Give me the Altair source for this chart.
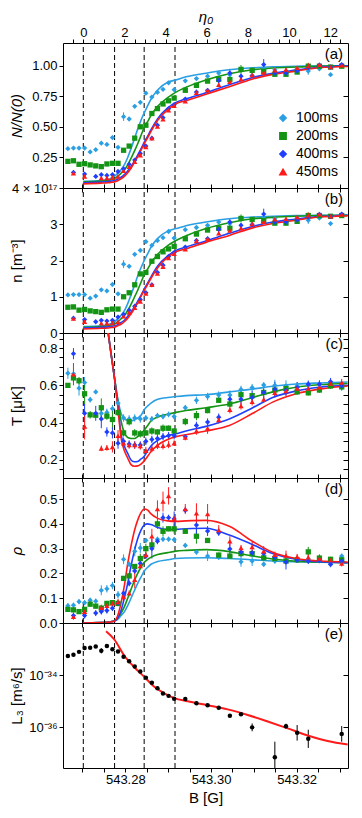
import altair as alt
import pandas as pd

FONT = "Liberation Sans"
W, H = 285, 145

SERIES = ["100ms", "200ms", "400ms", "450ms"]
COLORS = ["#2a9fe4", "#149414", "#1f3fff", "#ff1a1a"]
SHAPES = ["diamond", "square", "diamond", "triangle-up"]

B_MIN, B_MAX = 543.26546, 543.33197
VLINES_B = [543.2702, 543.2775, 543.2844, 543.2916]
XTICKS = [543.270, 543.275, 543.280, 543.285, 543.290, 543.295, 543.300,
          543.305, 543.310, 543.315, 543.320, 543.325, 543.330]
# top axis: eta_0 tick labels; field B where eta_0 = 0 and field step per unit eta_0
ETA_TICKS = [-0.5, 0, 0.5, 1, 1.5, 2, 2.5, 3, 3.5, 4, 4.5, 5, 5.5, 6, 6.5, 7,
             7.5, 8, 8.5, 9, 9.5, 10, 10.5, 11, 11.5, 12, 12.5]
ETA_B0, ETA_DB = 543.2702, 0.0048
ETA_TICK_B = [round(ETA_B0 + ETA_DB * e, 6) for e in ETA_TICKS]

# measurement field values (35 points)
B_PTS = [543.2666, 543.2679, 543.2692, 543.2705, 543.2718,
         543.2731, 543.2744, 543.2757, 543.2770, 543.2783,
         543.2796, 543.2809, 543.2822, 543.2835, 543.2848,
         543.2862, 543.2875, 543.2888, 543.2901, 543.2914,
         543.2940, 543.2966, 543.2992, 543.3018, 543.3044,
         543.3070, 543.3096, 543.3123, 543.3149, 543.3175,
         543.3201, 543.3227, 543.3253, 543.3279, 543.3305]

# fit-curve field values (27 points)
B_CURVE = [543.27020, 543.27433, 543.27589, 543.27666, 543.27743,
           543.27823, 543.27900, 543.27977, 543.28056, 543.28133,
           543.28210, 543.28289, 543.28366, 543.28443, 543.28523,
           543.28600, 543.28756, 543.28989, 543.29183, 543.29417,
           543.29883, 543.30427, 543.30973, 543.31440, 543.31984,
           543.32527, 543.33190]

# ---------------- panel (a): N/N(0)
NN_100 = [0.322, 0.327, 0.327, 0.327, 0.295, 0.314, 0.367, 0.357, 0.413, 0.333,
          0.584, 0.565, 0.669, 0.701, 0.776, 0.744, 0.784, 0.808, 0.861, 0.805,
          0.877, 0.896, 0.915, 0.941, 0.928, 0.968, 0.963, 0.976, 0.968, 0.941,
          0.976, 0.957, 0.976, 0.928, 1.003]
NN_200 = [0.218, 0.223, 0.194, 0.199, 0.189, 0.181, 0.175, 0.197, 0.202, 0.202,
          0.309, 0.343, 0.408, 0.501, 0.514, 0.610, 0.650, 0.688, 0.714, 0.736,
          0.800, 0.840, 0.875, 0.890, 0.888, 0.971, 0.963, 0.955, 0.931, 0.931,
          0.949, 0.997, 0.997, 0.990, 0.997]
NN_400 = [None, 0.127, None, 0.114, None, 0.095, 0.109, 0.103, 0.109, 0.135,
          0.157, 0.194, 0.229, 0.282, 0.343, 0.408, 0.514, 0.576, 0.648, 0.682,
          0.728, 0.785, 0.800, 0.880, 0.941, 0.915, 0.920, 1.010, 0.940, 0.940,
          0.960, 0.985, 1.005, 0.990, 1.010]
NN_450 = [None, 0.122, None, 0.095, None, None, 0.082, 0.082, 0.087, 0.095,
          0.141, 0.175, 0.215, 0.269, 0.335, 0.408, 0.504, 0.563, 0.637, 0.674,
          0.710, 0.780, 0.800, 0.845, 0.870, 0.890, 0.925, 0.945, 0.965, 0.970,
          0.985, 1.000, 1.010, 0.990, 1.005]
E_NN_100 = [.01, .01, .01, .01, .01, .01, .012, .01, .015, .01,
            .035, .012, .012, .012, .015, .012, .012, .01, .01, .01,
            .012, .01, .01, .015, .012, .01, .01, .012, .01, .02,
            .01, .03, .01, .01, .02]
E_NN_200 = [.01, .01, .01, .01, .01, .01, .01, .01, .01, .01,
            .01, .01, .01, .012, .012, .012, .012, .012, .01, .01,
            .012, .012, .012, .02, .012, .035, .012, .012, .012, .015,
            .012, .02, .012, .012, .012]
E_NN_400 = [0, .012, 0, .012, 0, .012, .012, .012, .012, .012,
            .012, .012, .012, .012, .012, .012, .012, .012, .012, .012,
            .012, .02, .012, .025, .035, .02, .012, .045, .012, .012,
            .012, .012, .012, .012, .012]
E_NN_450 = [0, .012, 0, .012, 0, 0, .012, .012, .012, .012,
            .012, .012, .012, .012, .012, .012, .012, .012, .012, .012,
            .012, .012, .012, .012, .012, .012, .012, .012, .012, .012,
            .012, .025, .012, .01, .012]
FNN_100 = [.055, .062, .07, .08, .095, .12, .15, .189, .25, .322,
           .40, .482, .555, .616, .675, .728, .803, .865, .885, .91,
           .94, .968, .984, .992, .996, 1.0, 1.0]
FNN_200 = [.05, .056, .062, .068, .077, .095, .12, .149, .19, .242,
           .30, .362, .43, .496, .545, .594, .669, .74, .785, .825,
           .885, .935, .968, .982, .99, .997, 1.0]
FNN_400 = [.042, .048, .052, .056, .061, .072, .088, .109, .14, .175,
           .22, .269, .32, .376, .425, .477, .568, .656, .701, .73,
           .78, .845, .905, .94, .965, .988, 1.0]
FNN_450 = [.034, .04, .043, .046, .05, .06, .075, .095, .125, .162,
           .207, .256, .31, .362, .412, .464, .554, .642, .69, .715,
           .768, .829, .893, .93, .957, .985, .995]

# ---------------- panel (b): n [1e17 m^-3]
N_100 = [1.05, 1.06, 1.06, 1.06, 0.96, 1.02, 1.19, 1.16, 1.34, 1.08,
         1.90, 1.84, 2.17, 2.28, 2.52, 2.42, 2.55, 2.63, 2.80, 2.62,
         2.85, 2.91, 2.97, 3.06, 3.02, 3.15, 3.13, 3.17, 3.15, 3.06,
         3.17, 3.11, 3.17, 3.02, 3.26]
N_200 = [0.71, 0.72, 0.63, 0.65, 0.61, 0.59, 0.57, 0.64, 0.66, 0.66,
         1.00, 1.11, 1.33, 1.63, 1.67, 1.98, 2.11, 2.24, 2.32, 2.39,
         2.60, 2.73, 2.84, 2.89, 2.89, 3.16, 3.13, 3.10, 3.03, 3.03,
         3.08, 3.24, 3.24, 3.22, 3.24]
N_400 = [None, 0.41, None, 0.37, None, 0.31, 0.35, 0.33, 0.35, 0.44,
         0.51, 0.63, 0.74, 0.92, 1.11, 1.33, 1.67, 1.87, 2.11, 2.22,
         2.37, 2.55, 2.60, 2.86, 3.06, 2.97, 2.99, 3.28, 3.06, 3.06,
         3.12, 3.20, 3.27, 3.22, 3.28]
N_450 = [None, 0.40, None, 0.31, None, None, 0.27, 0.27, 0.28, 0.31,
         0.46, 0.57, 0.70, 0.87, 1.09, 1.33, 1.64, 1.83, 2.07, 2.19,
         2.31, 2.54, 2.60, 2.75, 2.83, 2.89, 3.01, 3.07, 3.14, 3.15,
         3.20, 3.25, 3.28, 3.22, 3.27]
E_N_100 = [.03, .03, .03, .03, .03, .03, .04, .03, .05, .03,
           .11, .04, .04, .04, .05, .04, .04, .03, .03, .03,
           .04, .03, .03, .05, .04, .03, .03, .04, .03, .065,
           .03, .1, .03, .03, .065]
E_N_200 = [.03, .03, .03, .03, .03, .03, .03, .03, .03, .03,
           .03, .03, .03, .04, .04, .04, .04, .04, .03, .03,
           .04, .04, .04, .065, .04, .11, .04, .04, .04, .05,
           .04, .065, .04, .04, .04]
E_N_400 = [0, .04, 0, .04, 0, .04, .04, .04, .04, .04,
           .04, .04, .04, .04, .04, .04, .04, .04, .04, .04,
           .04, .065, .04, .08, .11, .065, .04, .15, .04, .04,
           .04, .04, .04, .04, .04]
E_N_450 = [0, .04, 0, .04, 0, 0, .04, .04, .04, .04,
           .04, .04, .04, .04, .04, .04, .04, .04, .04, .04,
           .04, .04, .04, .04, .04, .04, .04, .04, .04, .04,
           .04, .08, .04, .03, .04]
FN_100 = [.18, .20, .23, .26, .31, .39, .49, .61, .81, 1.05,
          1.30, 1.57, 1.80, 2.00, 2.19, 2.37, 2.61, 2.81, 2.88, 2.96,
          3.06, 3.15, 3.20, 3.22, 3.24, 3.25, 3.25]
FN_200 = [.16, .18, .20, .22, .25, .31, .39, .48, .62, .79,
          .98, 1.18, 1.40, 1.61, 1.77, 1.93, 2.17, 2.41, 2.55, 2.68,
          2.88, 3.04, 3.15, 3.19, 3.22, 3.24, 3.25]
FN_400 = [.14, .16, .17, .18, .20, .23, .29, .35, .46, .57,
          .72, .87, 1.04, 1.22, 1.38, 1.55, 1.85, 2.13, 2.28, 2.37,
          2.54, 2.75, 2.94, 3.06, 3.14, 3.21, 3.25]
FN_450 = [.11, .13, .14, .15, .16, .20, .24, .31, .41, .53,
          .67, .83, 1.01, 1.18, 1.34, 1.51, 1.80, 2.09, 2.24, 2.32,
          2.50, 2.69, 2.90, 3.02, 3.11, 3.20, 3.23]

# ---------------- panel (c): T [uK]
T_100 = [0.665, 0.662, 0.585, 0.615, 0.523, 0.565, 0.45, 0.455, 0.475, 0.505,
         0.425, 0.42, 0.425, 0.42, 0.425, 0.42, 0.438, 0.433, 0.444, 0.433,
         0.48, 0.52, 0.54, 0.548, 0.548, 0.578, 0.588, 0.602, 0.60, 0.597,
         0.597, 0.602, 0.607, 0.615, 0.59]
T_200 = [0.60, 0.64, 0.625, 0.555, 0.442, 0.44, 0.48, 0.435, 0.417, 0.454,
         0.345, 0.405, 0.345, 0.34, 0.345, 0.355, 0.35, 0.37, 0.37, 0.355,
         0.406, 0.438, 0.465, 0.52, 0.50, 0.55, 0.545, 0.562, 0.575, 0.583,
         0.565, 0.56, 0.575, 0.597, 0.592]
T_400 = [None, 0.77, None, 0.45, None, 0.45, 0.42, 0.35, 0.345, 0.29,
         0.30, 0.285, 0.28, 0.28, 0.30, 0.31, 0.315, 0.325, 0.33, 0.33,
         0.324, 0.385, 0.403, 0.429, 0.526, 0.526, 0.535, 0.562, 0.579, 0.574,
         0.588, 0.606, 0.606, 0.62, 0.597]
T_450 = [None, 0.66, None, 0.38, None, None, 0.262, 0.265, 0.27, 0.33,
         0.29, 0.28, 0.28, 0.275, 0.25, 0.262, 0.278, 0.276, 0.283, 0.29,
         0.32, 0.355, 0.37, 0.415, 0.47, 0.49, 0.512, 0.525, 0.56, 0.57,
         0.583, 0.583, 0.59, 0.61, 0.615]
E_T_100 = [.03, .02, .04, .03, .015, .012, .02, .02, .02, .02,
           .02, .02, .02, .02, .015, .015, .015, .015, .015, .015,
           .015, .02, .02, .02, .025, .02, .02, .015, .03, .03,
           .02, .02, .02, .02, .02]
E_T_200 = [.01, .02, .02, .06, .02, .01, .05, .02, .05, .02,
           .02, .02, .02, .02, .015, .02, .015, .02, .015, .015,
           .02, .025, .015, .015, .015, .02, .015, .015, .02, .02,
           .015, .015, .015, .015, .015]
E_T_400 = [0, .03, 0, .05, 0, .04, .05, .025, .03, .03,
           .02, .02, .02, .02, .02, .02, .02, .02, .02, .02,
           .015, .02, .02, .02, .03, .03, .035, .04, .04, .03,
           .03, .02, .02, .02, .02]
E_T_450 = [0, .06, 0, .07, 0, 0, .015, .015, .03, .03,
           .02, .02, .02, .02, .02, .02, .02, .02, .02, .015,
           .015, .02, .03, .02, .02, .02, .02, .02, .025, .025,
           .02, .02, .02, .02, .02]
FT_100 = [None, None, .90, .775, .65, .53, .45, .42, .412, .41,
          .415, .425, .44, .47, .49, .505, .525, .535, .54, .545,
          .55, .565, .58, .595, .607, .613, .618]
FT_200 = [None, None, .90, .775, .65, .52, .41, .345, .32, .315,
          .315, .325, .34, .36, .385, .41, .43, .445, .455, .465,
          .48, .50, .535, .565, .59, .603, .61]
FT_400 = [None, None, .90, .77, .645, .50, .34, .275, .235, .20,
          .19, .192, .205, .22, .25, .275, .305, .33, .34, .355,
          .38, .42, .48, .535, .57, .59, .60]
FT_450 = [None, None, .90, .77, .645, .49, .32, .25, .21, .175,
          .166, .168, .178, .195, .22, .245, .28, .31, .325, .335,
          .355, .385, .45, .51, .555, .58, .597]

# ---------------- panel (d): rho
R_100 = [0.07, 0.072, 0.086, 0.082, 0.092, 0.088, 0.132, 0.138, 0.151, 0.114,
         0.257, 0.237, 0.289, 0.303, 0.333, 0.309, 0.338, 0.338, 0.338, 0.336,
         0.313, 0.286, 0.27, 0.265, 0.27, 0.247, 0.25, 0.237, 0.25, 0.253,
         0.253, 0.257, 0.253, 0.237, 0.27]
R_200 = [0.055, 0.053, 0.046, 0.055, 0.076, 0.068, 0.06, 0.079, 0.082, 0.079,
         0.18, 0.19, 0.228, 0.26, 0.30, 0.315, 0.40, 0.37, 0.38, 0.38,
         0.37, 0.35, 0.333, 0.274, 0.27, 0.28, 0.28, 0.263, 0.26, 0.25,
         0.255, 0.287, 0.262, 0.257, 0.255]
R_400 = [None, 0.03, None, 0.03, None, 0.04, 0.046, 0.05, 0.06, 0.08,
         0.12, 0.16, 0.21, 0.24, 0.27, 0.30, 0.33, 0.425, 0.425, 0.42,
         0.455, 0.395, 0.371, 0.364, 0.299, 0.286, 0.283, 0.28, 0.265, 0.246,
         0.254, 0.25, 0.253, 0.237, 0.25]
R_450 = [None, 0.025, None, 0.046, None, None, 0.062, 0.07, 0.08, 0.085,
         0.105, 0.12, 0.175, 0.23, 0.275, 0.35, 0.46, 0.49, 0.513, 0.42,
         0.46, 0.443, 0.44, 0.375, 0.33, 0.303, 0.307, 0.29, 0.276, 0.272,
         0.267, 0.265, 0.26, 0.254, 0.24]
E_R_100 = [.01, .01, .01, .01, .01, .01, .02, .015, .015, .015,
           .02, .01, .02, .02, .01, .01, .01, .01, .01, .01,
           .01, .01, .02, .01, .01, .02, .02, .01, .01, .01,
           .01, .01, .01, .01, .01]
E_R_200 = [.01, .01, .01, .01, .01, .01, .01, .01, .01, .01,
           .01, .01, .01, .02, .02, .01, .02, .02, .01, .02,
           .01, .03, .01, .01, .01, .01, .01, .01, .01, .01,
           .01, .02, .015, .01, .01]
E_R_400 = [0, .012, 0, .012, 0, .012, .012, .012, .012, .012,
           .012, .012, .012, .012, .012, .04, .012, .02, .012, .03,
           .012, .04, .02, .012, .025, .02, .012, .03, .012, .03,
           .012, .012, .012, .012, .012]
E_R_450 = [0, .012, 0, .012, 0, 0, .012, .012, .012, .012,
           .012, .012, .035, .012, .012, .03, .035, .04, .035, .012,
           .02, .04, .04, .02, .02, .012, .02, .012, .012, .02,
           .012, .02, .012, .012, .012]
FR_100 = [0, .002, .003, .005, .009, .015, .03, .045, .07, .10,
          .13, .16, .185, .21, .225, .237, .248, .255, .26, .262,
          .263, .26, .255, .25, .247, .245, .243]
FR_200 = [0, .002, .003, .005, .009, .02, .04, .065, .10, .135,
          .17, .20, .225, .245, .257, .265, .276, .284, .29, .293,
          .296, .288, .27, .258, .249, .246, .243]
FR_400 = [0, .002, .003, .005, .007, .02, .05, .10, .16, .23,
          .29, .34, .375, .395, .40, .397, .385, .377, .378, .38,
          .382, .355, .316, .28, .257, .247, .243]
FR_450 = [0, .002, .003, .005, .007, .03, .08, .15, .24, .31,
          .37, .415, .445, .46, .455, .44, .422, .412, .41, .412,
          .414, .39, .329, .285, .26, .25, .246]

# ---------------- panel (e): L3 (log10 values)
B_L3 = [543.2666, 543.2679, 543.2692, 543.2705, 543.2718, 543.2731, 543.2744,
        543.2757, 543.2770, 543.2783, 543.2796, 543.2809, 543.2822, 543.2835,
        543.2848, 543.2862, 543.2875, 543.2888, 543.2901, 543.2914, 543.2940,
        543.2966, 543.2992, 543.3018, 543.3044, 543.3070, 543.3096, 543.3149,
        543.3175, 543.3201, 543.3227, 543.3305]
LG_L3 = [-33.26, -33.21, -33.10, -32.95, -32.94, -32.89, -33.06,
         -32.875, -33.00, -33.09, -33.29, -33.46, -33.66, -33.85,
         -34.09, -34.29, -34.50, -34.70, -34.79, -34.90, -34.91,
         -35.07, -35.15, -35.25, -35.55, -35.50, -36.00, -37.15,
         -35.96, -36.21, -36.44, -36.25]
ERR_L3 = [.03, .03, .03, .03, .03, .03, .1,
          .03, .03, .03, .03, .03, .03, .03,
          .03, .03, .03, .03, .03, .03, .03,
          .03, .03, .03, .06, .03, .15, .6,
          .1, .3, .35, .3]
B_L3FIT = [543.27550, 543.27743, 543.27977, 543.28210, 543.28443, 543.28677,
           543.28910, 543.29144, 543.29456, 543.29923, 543.30390, 543.30856,
           543.31323, 543.31790, 543.32257, 543.32723, 543.33190]
LG_L3FIT = [-32.31, -32.625, -33.25, -33.69, -34.06, -34.44,
            -34.69, -34.875, -35.0, -35.15, -35.31, -35.525,
            -35.775, -36.04, -36.31, -36.525, -36.66]


def points_df(vals_list, errs_list):
    rows = []
    for s, vals, errs in zip(SERIES, vals_list, errs_list):
        for b, v, e in zip(B_PTS, vals, errs):
            if v is None:
                continue
            rows.append({"B": b, "v": v, "lo": v - e, "hi": v + e, "series": s})
    return pd.DataFrame(rows)


def curves_df(vals_list):
    rows = []
    for s, vals in zip(SERIES, vals_list):
        for b, v in zip(B_CURVE, vals):
            if v is None:
                continue
            rows.append({"B": b, "v": v, "series": s})
    return pd.DataFrame(rows)


XSCALE = alt.Scale(domain=[B_MIN, B_MAX], nice=False, zero=False)
DF_VL = pd.DataFrame({"B": VLINES_B})
BOTTOM_EXPR = "abs(datum.value*50 - round(datum.value*50)) < 0.01 ? format(datum.value, '.2f') : ''"
ETA_EXPR = ("abs((datum.value - %r)/%r - 2*round((datum.value - %r)/%r/2)) < 0.05"
            " ? format(round((datum.value - %r)/%r), 'd') : ''") % (
    ETA_B0, ETA_DB, ETA_B0, ETA_DB, ETA_B0, ETA_DB)


def xq(axis=None):
    return alt.X("B:Q", scale=XSCALE, axis=axis)


def frame_layers(ysc, ydom, yvals, bottom_labels=False, top_eta=False):
    if bottom_labels:
        bax = alt.Axis(orient="bottom", values=XTICKS, labelExpr=BOTTOM_EXPR,
                       title="B [G]", tickSize=4, domain=False, grid=False,
                       labelPadding=1, titlePadding=4, labelFlush=False)
    else:
        bax = alt.Axis(orient="bottom", values=XTICKS, labels=False, title=None,
                       tickSize=4, domain=False, grid=False)
    vl = alt.Chart(DF_VL).mark_rule(strokeDash=[5, 3], color="black",
                                    strokeWidth=1).encode(
        x=xq(bax),
        y=alt.Y(datum=ydom[0], scale=ysc, axis=None),
        y2=alt.Y2(datum=ydom[1]))
    if top_eta:
        tax = alt.Axis(orient="top", values=ETA_TICK_B, labelExpr=ETA_EXPR,
                       title="η₀", titleFontStyle="italic", titleFontSize=15,
                       tickSize=4, domain=False, grid=False,
                       labelPadding=0, titlePadding=2, labelFlush=False)
    else:
        tax = alt.Axis(orient="top", values=XTICKS, labels=False, title=None,
                       tickSize=4, domain=False, grid=False)
    top = alt.Chart(DF_VL).mark_point(opacity=0).encode(
        x=xq(tax), y=alt.Y(datum=ydom[0], scale=ysc, axis=None))
    right = alt.Chart(pd.DataFrame({"v": yvals})).mark_point(opacity=0).encode(
        x=alt.X(datum=B_MIN, scale=XSCALE, axis=None),
        y=alt.Y("v:Q", scale=ysc,
                axis=alt.Axis(orient="right", values=yvals, labels=False, title=None,
                              tickSize=5, offset=-5, domain=False, grid=False)))
    return [vl, top, right]


def label_layer(t, ysc, ydom):
    return alt.Chart(pd.DataFrame({"t": [t]})).mark_text(
        font=FONT, fontSize=15, align="right", baseline="top", dx=-5, dy=4).encode(
        x=alt.X(datum=B_MAX, scale=XSCALE, axis=None),
        y=alt.Y(datum=ydom[1], scale=ysc, axis=None), text="t:N")


def left_axis(yvals, expr, title, italic):
    kw = dict(orient="left", values=yvals, labelExpr=expr, title=title,
              titleX=-39, titleY=H / 2, tickSize=4, domain=False, grid=False,
              labelPadding=2, labelOverlap=False)
    if italic:
        kw["titleFontStyle"] = "italic"
    return alt.Axis(**kw)


def series_panel(pts, errs, curves, ydom, yvals, expr, title, italic, lab,
                 top_eta=False, legend=False):
    ysc = alt.Scale(domain=ydom, nice=False, zero=False)
    pdf = points_df(pts, errs)
    cdf = curves_df(curves)
    cscale = alt.Scale(domain=SERIES, range=COLORS)
    sscale = alt.Scale(domain=SERIES, range=SHAPES)
    if legend:
        lg = alt.Legend(orient="bottom-right", offset=9, title=None,
                        labelFont=FONT, labelFontSize=14, symbolSize=40,
                        rowPadding=4, labelOffset=6)
        col = alt.Color("series:N", scale=cscale, legend=lg)
        shp = alt.Shape("series:N", scale=sscale, legend=lg)
        col_other = alt.Color("series:N", scale=cscale)
    else:
        col = alt.Color("series:N", scale=cscale, legend=None)
        shp = alt.Shape("series:N", scale=sscale, legend=None)
        col_other = alt.Color("series:N", scale=cscale, legend=None)

    err = alt.Chart(pdf).mark_rule(strokeWidth=1, clip=True).encode(
        x=xq(), y=alt.Y("lo:Q", scale=ysc, axis=None), y2="hi:Q", color=col_other)
    line = alt.Chart(cdf).mark_line(strokeWidth=1.6, clip=True,
                                    interpolate="monotone").encode(
        x=xq(), y=alt.Y("v:Q", scale=ysc, axis=None), color=col_other)
    pt = alt.Chart(pdf).mark_point(filled=True, size=28, opacity=1, clip=True).encode(
        x=xq(), y=alt.Y("v:Q", scale=ysc, axis=left_axis(yvals, expr, title, italic)),
        color=col, shape=shp)
    layers = frame_layers(ysc, ydom, yvals, top_eta=top_eta) + [
        err, line, pt, label_layer(lab, ysc, ydom)]
    ch = alt.layer(*layers).resolve_axis(x="independent", y="independent")
    return ch.properties(width=W, height=H)


pa = series_panel([NN_100, NN_200, NN_400, NN_450],
                  [E_NN_100, E_NN_200, E_NN_400, E_NN_450],
                  [FNN_100, FNN_200, FNN_400, FNN_450],
                  [0.0, 1.187], [0.25, 0.5, 0.75, 1.0],
                  "format(datum.value, '.2f')", "N/N(0)", True, "(a)",
                  top_eta=True, legend=True)
pb = series_panel([N_100, N_200, N_400, N_450],
                  [E_N_100, E_N_200, E_N_400, E_N_450],
                  [FN_100, FN_200, FN_400, FN_450],
                  [0.0, 4.0], [0, 1, 2, 3, 4],
                  "datum.value == 4 ? '4 × 10¹⁷' : format(datum.value, 'd')",
                  "n [m⁻³]", False, "(b)")
pc = series_panel([T_100, T_200, T_400, T_450],
                  [E_T_100, E_T_200, E_T_400, E_T_450],
                  [FT_100, FT_200, FT_400, FT_450],
                  [0.103, 0.881],
                  [0.15, 0.2, 0.25, 0.3, 0.35, 0.4, 0.45, 0.5, 0.55, 0.6, 0.65,
                   0.7, 0.75, 0.8, 0.85],
                  "abs(datum.value*5 - round(datum.value*5)) < 0.01 ? format(datum.value, '.1f') : ''",
                  "T [μK]", False, "(c)")
pd_ = series_panel([R_100, R_200, R_400, R_450],
                   [E_R_100, E_R_200, E_R_400, E_R_450],
                   [FR_100, FR_200, FR_400, FR_450],
                   [0.0, 0.585], [0, 0.1, 0.2, 0.3, 0.4, 0.5],
                   "format(datum.value, '.1f')", "ρ", True, "(d)")

# panel (e)
YDOM_E = [2.75e-38, 1.02e-32]
ysc_e = alt.Scale(type="log", domain=YDOM_E, nice=False)
YV_E = [1e-36, 1e-34]
df_e = pd.DataFrame({"B": B_L3, "lg": LG_L3, "err": ERR_L3})
df_ef = pd.DataFrame({"B": B_L3FIT, "lg": LG_L3FIT})
base_e = alt.Chart(df_e).transform_calculate(
    L="pow(10, datum.lg)", lo="pow(10, datum.lg - datum.err)",
    hi="pow(10, datum.lg + datum.err)")
err_e = base_e.mark_rule(color="black", strokeWidth=1, clip=True).encode(
    x=xq(), y=alt.Y("lo:Q", scale=ysc_e, axis=None), y2="hi:Q")
fit_e = alt.Chart(df_ef).transform_calculate(L="pow(10, datum.lg)").mark_line(
    color="#ff1a1a", strokeWidth=2, clip=True, interpolate="monotone").encode(
    x=xq(), y=alt.Y("L:Q", scale=ysc_e, axis=None))
pt_e = base_e.mark_circle(color="black", size=20, opacity=1, clip=True).encode(
    x=xq(), y=alt.Y("L:Q", scale=ysc_e,
                    axis=left_axis(YV_E, "datum.value < 1e-35 ? '10⁻³⁶' : '10⁻³⁴'",
                                   "L₃ [m⁶/s]", False)))
pe = alt.layer(*(frame_layers(ysc_e, YDOM_E, YV_E, bottom_labels=True)
                 + [err_e, fit_e, pt_e, label_layer("(e)", ysc_e, YDOM_E)]))
pe = pe.resolve_axis(x="independent", y="independent").properties(width=W, height=H)

chart = alt.vconcat(pa, pb, pc, pd_, pe, spacing=0, bounds="flush", padding=0)
chart = chart.resolve_scale(color="independent", shape="independent")
chart = chart.resolve_legend(color="independent", shape="independent")
chart = chart.configure_view(stroke="black", strokeWidth=1).configure_axis(
    labelFont=FONT, titleFont=FONT, labelFontSize=13, titleFontSize=15,
    labelColor="black", titleColor="black", tickColor="black",
    titleFontWeight="normal").configure_legend(labelFont=FONT)

chart.save("out.html", embed_options={"renderer": "svg", "actions": False})
